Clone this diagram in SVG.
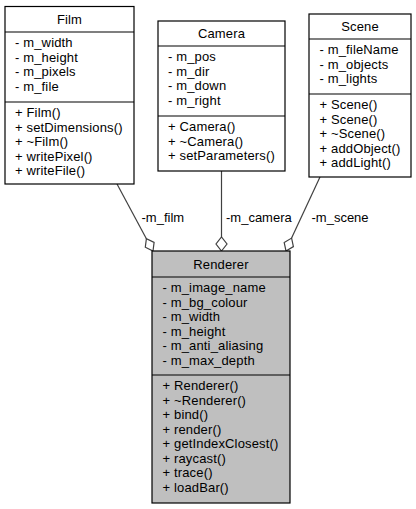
<svg xmlns="http://www.w3.org/2000/svg" width="416" height="509" viewBox="0 0 416 509">
<style>
.box{fill:#ffffff;stroke:#000000;stroke-width:1.2}
.gray{fill:#bfbfbf;stroke:#000000;stroke-width:1.2}
.sep{stroke:#000000;stroke-width:1.2}
text{font-family:"Liberation Sans",Arial,sans-serif;font-size:13px;fill:#000000}
.n text{letter-spacing:0.15px}
.t{text-anchor:middle}
.edge{stroke:#404040;stroke-width:1.2;fill:none}
.dia{fill:#ffffff;stroke:#404040;stroke-width:1.2}
</style>
<rect width="416" height="509" fill="#ffffff"/>
<g id="connectors">
<line class="edge" x1="117" y1="184" x2="146.4" y2="238.7"/>
<polygon class="dia" points="153,251 154.1,242.4 146.4,238.7 145.3,247.2"/>
<text x="141.5" y="221.5">-m_film</text>
<line class="edge" x1="221.5" y1="171" x2="221.5" y2="237"/>
<polygon class="dia" points="221.5,251 227,244 221.5,237 216,244"/>
<text x="226" y="221.5">-m_camera</text>
<line class="edge" x1="320" y1="177" x2="291.6" y2="238.1"/>
<polygon class="dia" points="286,251 293.4,246.6 291.6,238.1 284.2,242.6"/>
<text x="311.5" y="221.5">-m_scene</text>
</g>
<g id="Film" class="n">
<rect class="box" x="5" y="6.5" width="129" height="177.5"/>
<line class="sep" x1="5" y1="32" x2="134" y2="32"/>
<line class="sep" x1="5" y1="102" x2="134" y2="102"/>
<text class="t" x="69.5" y="23.5">Film</text>
<text x="15" y="47">- m_width</text>
<text x="15" y="61.5">- m_height</text>
<text x="15" y="76">- m_pixels</text>
<text x="15" y="90.5">- m_file</text>
<text x="15" y="117">+ Film()</text>
<text x="15" y="131.5">+ setDimensions()</text>
<text x="15" y="146">+ ~Film()</text>
<text x="15" y="160.5">+ writePixel()</text>
<text x="15" y="175">+ writeFile()</text>
</g>
<g id="Camera" class="n">
<rect class="box" x="158" y="21" width="127" height="150"/>
<line class="sep" x1="158" y1="46" x2="285" y2="46"/>
<line class="sep" x1="158" y1="116" x2="285" y2="116"/>
<text class="t" x="221.5" y="38">Camera</text>
<text x="168" y="61">- m_pos</text>
<text x="168" y="75.5">- m_dir</text>
<text x="168" y="90">- m_down</text>
<text x="168" y="104.5">- m_right</text>
<text x="168" y="131">+ Camera()</text>
<text x="168" y="145.5">+ ~Camera()</text>
<text x="168" y="160">+ setParameters()</text>
</g>
<g id="Scene" class="n">
<rect class="box" x="309" y="14" width="102" height="163"/>
<line class="sep" x1="309" y1="39" x2="411" y2="39"/>
<line class="sep" x1="309" y1="94" x2="411" y2="94"/>
<text class="t" x="360" y="31">Scene</text>
<text x="319.5" y="54">- m_fileName</text>
<text x="319.5" y="68.5">- m_objects</text>
<text x="319.5" y="83">- m_lights</text>
<text x="319.5" y="109">+ Scene()</text>
<text x="319.5" y="123.5">+ Scene()</text>
<text x="319.5" y="138">+ ~Scene()</text>
<text x="319.5" y="152.5">+ addObject()</text>
<text x="319.5" y="167">+ addLight()</text>
</g>
<g id="Renderer" class="n">
<rect class="gray" x="152" y="251" width="138" height="252"/>
<line class="sep" x1="152" y1="277" x2="290" y2="277"/>
<line class="sep" x1="152" y1="375" x2="290" y2="375"/>
<text class="t" x="221" y="268.5">Renderer</text>
<text x="162.5" y="292">- m_image_name</text>
<text x="162.5" y="306.5">- m_bg_colour</text>
<text x="162.5" y="321">- m_width</text>
<text x="162.5" y="335.5">- m_height</text>
<text x="162.5" y="350">- m_anti_aliasing</text>
<text x="162.5" y="364.5">- m_max_depth</text>
<text x="162.5" y="390">+ Renderer()</text>
<text x="162.5" y="404.5">+ ~Renderer()</text>
<text x="162.5" y="419">+ bind()</text>
<text x="162.5" y="433.5">+ render()</text>
<text x="162.5" y="448">+ getIndexClosest()</text>
<text x="162.5" y="462.5">+ raycast()</text>
<text x="162.5" y="477">+ trace()</text>
<text x="162.5" y="491.5">+ loadBar()</text>
</g>
</svg>
